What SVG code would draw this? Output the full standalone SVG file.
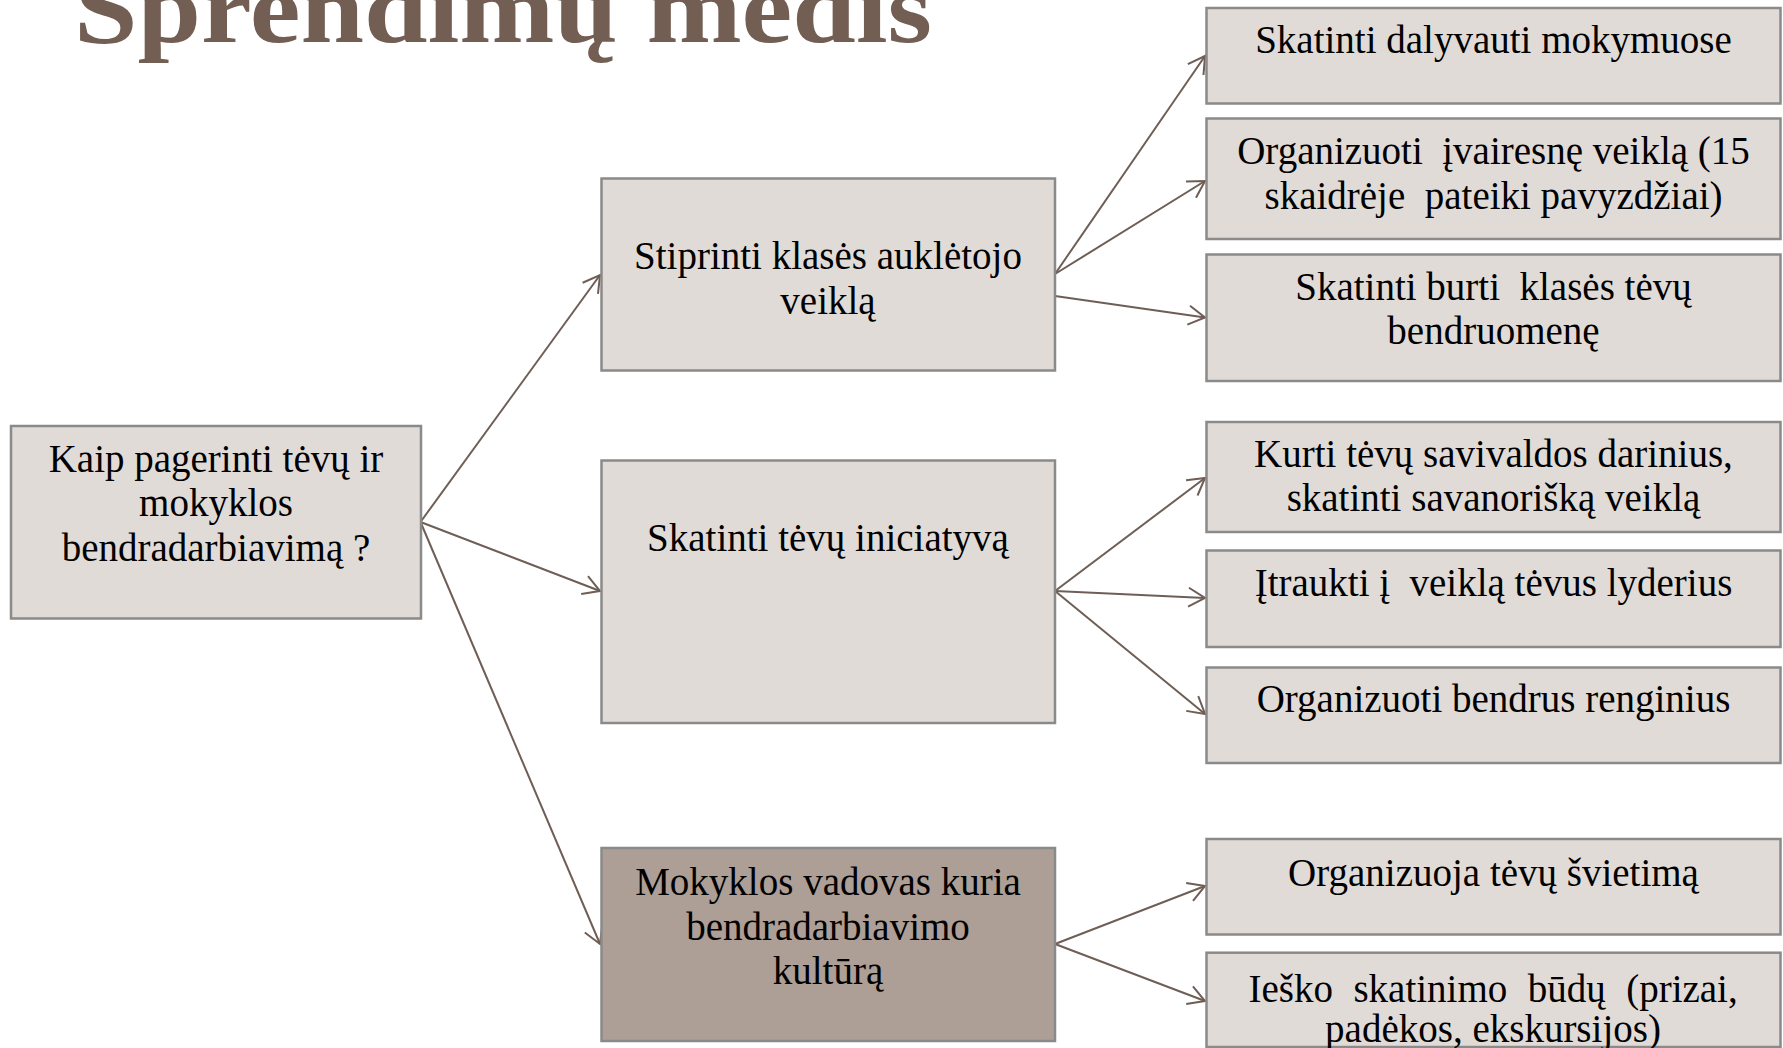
<svg xmlns="http://www.w3.org/2000/svg" width="1783" height="1048" viewBox="0 0 1783 1048">
<style>
.box{fill:#e0dbd7;stroke:#8a8a8a;stroke-width:2.5}
.dark{fill:#ad9e96}
.t{font-family:"Liberation Serif","Times New Roman",serif;font-size:39px;fill:#000;text-anchor:middle}
.title{font-family:"Liberation Serif","Times New Roman",serif;font-size:100px;font-weight:bold;fill:#735e54}
.c{stroke:#6e5e56;stroke-width:2;fill:none;marker-end:url(#ah)}
</style>
<defs>
<marker id="ah" markerUnits="userSpaceOnUse" markerWidth="24" markerHeight="24" viewBox="-20 -12 22 24" refX="0" refY="0" orient="auto">
<path d="M-16.5,-9.5 L0,0 L-16.5,9.5" fill="none" stroke="#6e5e56" stroke-width="2"/>
</marker>
</defs>
<rect width="1783" height="1048" fill="#fff"/>
<text class="title" x="74" y="42" textLength="858" lengthAdjust="spacingAndGlyphs">Sprendimų medis</text>

<g id="connectors">
<path class="c" d="M420.5,522 L600,275"/>
<path class="c" d="M420.5,522 L600,591"/>
<path class="c" d="M420.5,522 L600,944"/>
<path class="c" d="M1055,274 L1205,56"/>
<path class="c" d="M1055,274 L1205,181"/>
<path class="c" d="M1055,296 L1205,317.5"/>
<path class="c" d="M1055,591 L1205,478"/>
<path class="c" d="M1055,591 L1205,598"/>
<path class="c" d="M1055,591 L1205,714"/>
<path class="c" d="M1055,944 L1205,886"/>
<path class="c" d="M1055,944 L1205,1001"/>
</g>

<g id="root">
<rect class="box" x="11" y="426" width="410" height="192.5"/>
<text class="t" x="216" y="471.7">Kaip pagerinti tėvų ir</text>
<text class="t" x="216" y="516.2">mokyklos</text>
<text class="t" x="216" y="560.7">bendradarbiavimą ?</text>
</g>

<g id="mid1">
<rect class="box" x="601.5" y="178.5" width="453.5" height="192"/>
<text class="t" x="828" y="269">Stiprinti klasės auklėtojo</text>
<text class="t" x="828" y="313.5">veiklą</text>
</g>

<g id="mid2">
<rect class="box" x="601.5" y="460.5" width="453.5" height="262.5"/>
<text class="t" x="828" y="551">Skatinti tėvų iniciatyvą</text>
</g>

<g id="mid3">
<rect class="box dark" x="601.5" y="848" width="453.5" height="193"/>
<text class="t" x="828" y="895">Mokyklos vadovas kuria</text>
<text class="t" x="828" y="939.5">bendradarbiavimo</text>
<text class="t" x="828" y="984">kultūrą</text>
</g>

<g id="r1">
<rect class="box" x="1206.5" y="8" width="574" height="95.5"/>
<text class="t" x="1493.5" y="53">Skatinti dalyvauti mokymuose</text>
</g>

<g id="r2">
<rect class="box" x="1206.5" y="118.5" width="574" height="120.5"/>
<text class="t" x="1493.5" y="164" xml:space="preserve">Organizuoti  įvairesnę veiklą (15</text>
<text class="t" x="1493.5" y="209" xml:space="preserve">skaidrėje  pateiki pavyzdžiai)</text>
</g>

<g id="r3">
<rect class="box" x="1206.5" y="254.5" width="574" height="126.5"/>
<text class="t" x="1493.5" y="300" xml:space="preserve">Skatinti burti  klasės tėvų</text>
<text class="t" x="1493.5" y="344">bendruomenę</text>
</g>

<g id="r4">
<rect class="box" x="1206.5" y="422" width="574" height="110"/>
<text class="t" x="1493.5" y="466.5">Kurti tėvų savivaldos darinius,</text>
<text class="t" x="1493.5" y="510.5">skatinti savanorišką veiklą</text>
</g>

<g id="r5">
<rect class="box" x="1206.5" y="550.5" width="574" height="96.5"/>
<text class="t" x="1493.5" y="595.5" xml:space="preserve">Įtraukti į  veiklą tėvus lyderius</text>
</g>

<g id="r6">
<rect class="box" x="1206.5" y="667.5" width="574" height="95.5"/>
<text class="t" x="1493.5" y="712">Organizuoti bendrus renginius</text>
</g>

<g id="r7">
<rect class="box" x="1206.5" y="839" width="574" height="95.5"/>
<text class="t" x="1493.5" y="885.5">Organizuoja tėvų švietimą</text>
</g>

<g id="r8">
<rect class="box" x="1206.5" y="952.7" width="574" height="94.3"/>
<text class="t" x="1248.5" y="1001.5" style="text-anchor:start;word-spacing:10.7px">Ieško skatinimo būdų (prizai,</text>
<text class="t" x="1493" y="1042">padėkos, ekskursijos)</text>
</g>
</svg>
